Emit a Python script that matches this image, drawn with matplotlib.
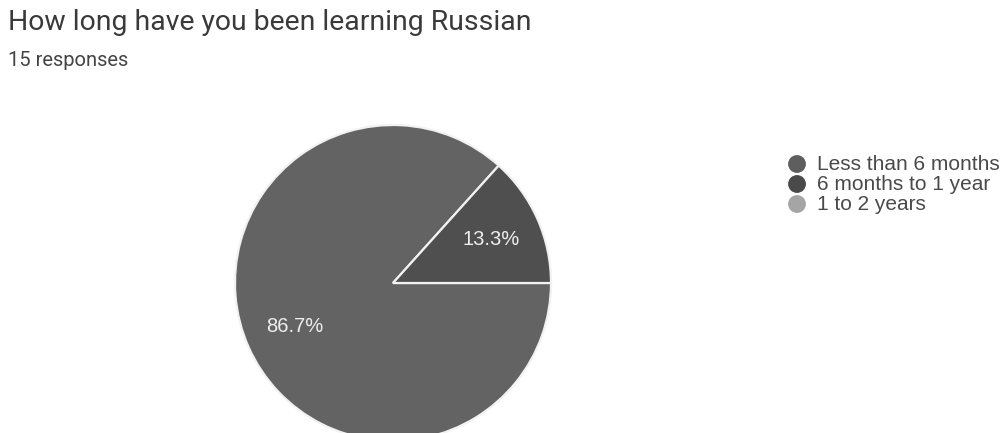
import matplotlib.pyplot as plt

plt.rcParams['font.family'] = ['Roboto', 'DejaVu Sans']

title = "How long have you been learning Russian"
subtitle = "15 responses"
categories = ["Less than 6 months", "6 months to 1 year", "1 to 2 years"]
counts = [13, 2, 0]
colors = ["#636363", "#4f4f4f", "#a8a8a8"]
legend_colors = ["#5e5e5e", "#4a4a4a", "#a5a5a5"]

W, H = 1002, 433
fig = plt.figure(figsize=(W / 100, H / 100), dpi=100)
ax = fig.add_axes([0, 0, 1, 1])

vals = [c for c in counts if c > 0]
cols = [col for c, col in zip(counts, colors) if c > 0]
total = sum(counts)
wedges, texts = ax.pie(vals, colors=cols, startangle=0, counterclock=False,
                       center=(393, H - 283), radius=158,
                       labels=[f"{v / total * 100:.1f}%" for v in vals],
                       labeldistance=0.68,
                       wedgeprops=dict(edgecolor='#f2f2f2', linewidth=1.6),
                       textprops=dict(color='#eeeeee', fontsize=14.5,
                                      family=['Liberation Sans', 'DejaVu Sans']),
                       frame=True)
for t in texts:
    t.set_ha('center')
    t.set_va('center')
ax.set_xlim(0, W)
ax.set_ylim(0, H)
ax.set_aspect('equal')
ax.axis('off')

fig.text(8 / W, 1 - 22 / H, title, fontsize=20.4, color='#3a3a3a', va='center', ha='left')
fig.text(8 / W, 1 - 60 / H, subtitle, fontsize=14.5, color='#444444', va='center', ha='left')

for i, (lab, col) in enumerate(zip(categories, legend_colors)):
    y = 164 + i * 20
    ax.scatter([797], [H - y], s=165, color=col, edgecolors='none')
    ax.text(817, H - y, lab, fontsize=15, color='#4a4a4a', va='center', ha='left',
            family=['Liberation Sans', 'DejaVu Sans'])

fig.savefig("out.png", dpi=100, facecolor='white')
